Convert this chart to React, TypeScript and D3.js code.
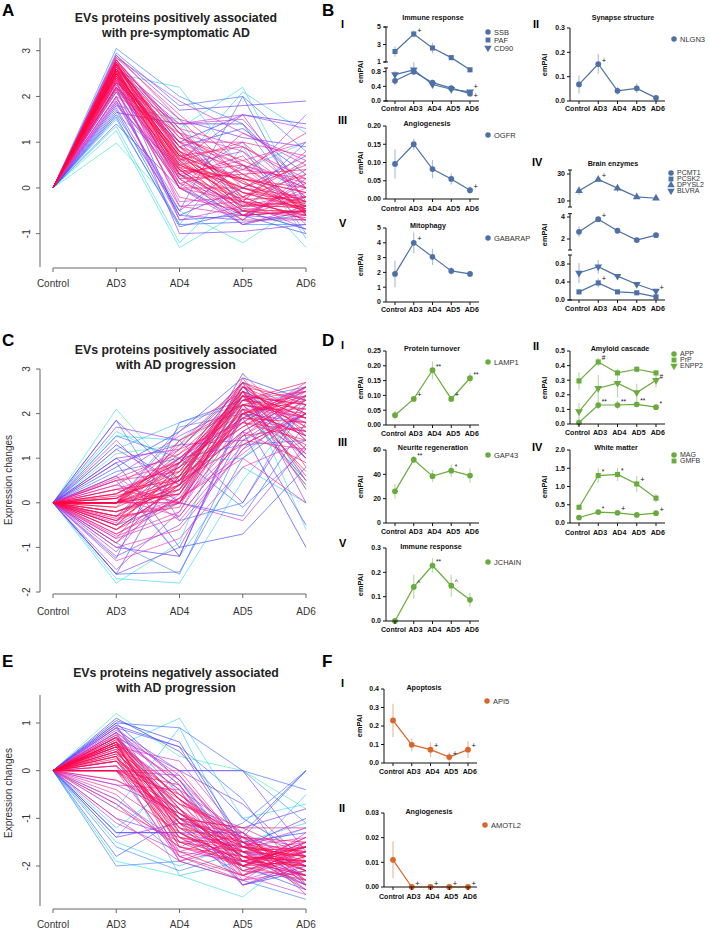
import React from 'react';
import * as d3 from 'd3';

const CATS = ['Control', 'AD3', 'AD4', 'AD5', 'AD6'];

// Cluster profiles: [membership, AD3, AD4, AD5, AD6]; Control is always 0
const PROFILES_A: number[][] = [
  [0.12, 0.98, -0.5, -1.2, -0.3], [0.15, 1.25, -1.3, -0.5, -0.9], [0.18, 1.35, -1.2, 0.2, -1.3],
  [0.2, 2.5, 2.2, 0.4, 1.0], [0.14, 2.1, 1.3, 2.2, -0.4], [0.22, 1.6, 0.5, 2.1, 1.2],
  [0.25, 1.5, -0.8, 0.9, -1.1], [0.2, 1.8, 1.5, -0.5, 0.6],
  [0.35, 3.05, 2.0, 1.4, -0.5], [0.38, 2.95, 1.8, 2.0, 0.8], [0.4, 1.7, -0.8, -0.75, -0.6],
  [0.42, 1.55, -0.85, -0.5, -0.9], [0.45, 2.3, 1.0, 1.6, 1.4], [0.32, 1.85, 0.2, 1.0, -1.0],
  [0.48, 2.0, -0.6, 0.0, 0.7], [0.36, 2.6, 1.3, -0.3, 1.0], [0.44, 2.7, 0.9, 1.3, 0.3],
  [0.4, 1.4, 0.0, -0.6, -0.5], [0.46, 1.65, 1.4, 1.4, 0.0], [0.42, 2.45, -0.7, -0.6, -1.0],
  [0.38, 1.6, -0.5, 2.0, -0.6], [0.34, 2.2, 0.3, -0.8, -0.8],
  [0.55, 2.9, 1.7, 1.8, 1.9], [0.58, 2.2, -1.0, -0.95, -0.8], [0.6, 1.9, -0.5, 0.5, 0.0],
  [0.62, 2.4, 0.6, 1.6, -0.3], [0.65, 2.8, 1.2, -0.4, 0.4], [0.68, 2.1, 0.0, -0.8, -0.4],
  [0.7, 2.5, 0.8, 0.2, 1.6], [0.72, 2.3, -0.3, -0.2, -0.7], [0.55, 2.65, 1.5, 1.1, 0.9],
  [0.6, 1.8, 0.4, -0.5, -0.2], [0.74, 2.0, -0.7, -0.4, -0.1], [0.66, 2.75, 0.5, 0.8, -0.6],
  [0.62, 2.15, 0.4, -0.6, -0.7], [0.68, 2.6, 1.4, 1.6, 1.3], [0.72, 1.85, -0.4, -0.3, -0.9],
  [0.64, 2.45, 0.1, -0.8, -0.5], [0.7, 2.85, 1.9, 1.2, 0.6], [0.58, 1.75, -0.6, -0.7, 0.2],
  [0.74, 2.2, 1.0, 0.5, -0.8],
  [0.8, 2.6, 1.0, 0.3, -0.3], [0.82, 2.5, 0.7, -0.1, -0.5], [0.85, 2.7, 0.5, 0.0, -0.2],
  [0.88, 2.4, 0.3, -0.4, -0.4], [0.9, 2.75, 1.1, 0.6, 0.0], [0.92, 2.55, 0.6, -0.3, -0.6],
  [0.95, 2.65, 0.8, 0.1, -0.4], [0.97, 2.5, 0.4, -0.5, -0.5], [0.78, 2.3, 0.0, 1.2, 0.5],
  [0.8, 2.8, 1.3, 0.9, 0.2], [0.83, 2.2, 0.2, -0.6, 0.1], [0.86, 2.6, 0.9, 0.4, 1.2],
  [0.9, 2.45, 0.5, -0.2, -0.7], [0.93, 2.7, 0.7, 0.2, -0.1], [0.96, 2.6, 0.45, -0.4, -0.3],
  [0.99, 2.55, 0.55, -0.1, -0.45], [0.8, 2.1, 0.0, -0.7, 0.3], [0.84, 2.35, 0.25, 0.7, -0.6],
  [0.88, 2.8, 1.2, -0.2, 0.6], [0.91, 2.5, 0.35, 0.5, -0.4], [0.76, 1.9, 0.1, -0.3, 0.8],
  [0.79, 2.65, 1.0, 1.0, -0.2], [0.87, 2.4, 0.0, 0.0, -0.5], [0.94, 2.75, 0.75, -0.45, -0.55],
  [0.98, 2.6, 0.65, 0.0, -0.35], [0.81, 2.2, 0.8, -0.6, 0.0], [0.85, 2.9, 1.5, 0.2, -0.1],
  [0.89, 2.3, 0.2, 0.3, 0.4], [0.92, 2.7, 0.9, -0.5, -0.65], [0.96, 2.45, 0.3, -0.25, -0.2],
  [0.82, 2.45, 0.9, 0.1, -0.3], [0.86, 2.7, 0.6, -0.6, -0.5], [0.9, 2.25, 0.45, 0.2, 0.0],
  [0.93, 2.6, 1.2, 0.3, -0.5], [0.97, 2.8, 0.8, -0.3, -0.4], [0.83, 2.15, -0.2, -0.5, -0.6],
  [0.87, 2.55, 0.1, 0.4, 0.2], [0.91, 2.35, 0.9, -0.1, -0.3], [0.95, 2.75, 0.3, -0.6, -0.5],
  [0.99, 2.5, 0.7, 0.15, -0.55], [0.78, 2.0, 1.2, 0.8, -0.2], [0.81, 2.85, 1.6, 0.5, 0.1],
  [0.84, 2.4, 0.6, 1.0, 0.7], [0.88, 2.6, 0.2, -0.7, -0.7], [0.92, 2.2, 0.5, 0.0, 0.5],
  [0.96, 2.7, 1.0, -0.2, 0.3], [0.79, 2.3, 1.4, 1.5, 0.0], [0.85, 2.65, 0.0, -0.3, -0.6],
  [0.89, 2.5, 1.1, 0.5, -0.5], [0.94, 2.35, 0.65, -0.35, -0.45], [0.98, 2.6, 0.4, 0.2, -0.3],
  [0.76, 1.95, 0.3, 0.6, 1.0], [0.8, 2.55, -0.4, -0.6, -0.2], [0.86, 2.75, 1.3, 0.0, -0.4],
  [0.9, 2.45, 0.7, 0.9, 0.1],
];

const PROFILES_C: number[][] = [
  [0.12, 2.1, 0.5, 2.9, 0.3], [0.15, -1.8, -0.9, 2.7, -0.6], [0.18, -1.7, -1.8, 0.5, 2.2],
  [0.2, 1.5, 1.4, 2.5, 0.5], [0.14, 1.6, 0.9, 1.0, 2.4], [0.22, 0.6, -1.2, 0.8, 0.0],
  [0.25, 1.2, 1.8, 2.2, 2.5], [0.2, -0.2, 0.3, 2.6, 1.0], [0.1, 1.1, 1.3, 2.2, 0.4],
  [0.35, 1.85, -0.4, 0.0, 2.4], [0.38, -1.6, -1.55, 1.0, 2.0], [0.4, -1.25, 1.8, 2.3, 2.6],
  [0.42, 0.9, -1.0, -0.7, 0.8], [0.45, 1.3, 0.4, 1.6, -1.0], [0.32, 0.0, 1.7, 2.0, 1.6],
  [0.48, -1.0, -1.2, 2.1, 0.5], [0.36, 1.5, 1.0, 1.3, 1.4], [0.44, 0.8, 1.6, 2.8, 2.3],
  [0.4, -0.5, 0.0, -0.3, 1.8], [0.46, 1.0, 0.0, 2.4, 1.0], [0.42, -1.6, 0.9, 1.9, 2.5],
  [0.38, 0.7, 1.0, -0.1, 1.2], [0.34, -0.9, -1.6, 1.4, 2.0],
  [0.55, 1.85, 0.5, 2.5, 1.5], [0.58, -1.6, -1.0, 1.6, 2.4], [0.6, 1.0, 1.2, 2.7, 0.0],
  [0.62, -1.2, -0.5, 1.2, 2.0], [0.65, 0.6, 1.5, 2.2, 1.0], [0.68, -0.9, 0.2, 2.0, 2.6],
  [0.7, 1.4, 0.0, -0.4, 1.3], [0.72, 0.3, 0.8, 2.4, 1.8], [0.55, -0.3, 1.0, 1.9, -0.5],
  [0.6, 1.7, 1.4, 0.0, 2.2], [0.74, 0.1, -0.3, 1.5, 2.5], [0.66, -1.1, 0.6, 2.6, 1.2],
  [0.62, 0.9, 1.3, 1.4, 2.3], [0.68, -1.5, -0.2, 2.2, 1.9], [0.72, 0.0, 1.6, 2.5, 0.3],
  [0.64, 1.2, 0.4, 1.8, 2.6], [0.7, -0.8, 0.9, 2.7, 1.4], [0.58, 0.5, -1.2, 2.0, 1.8],
  [0.74, -0.4, 0.1, 1.1, 2.2],
  [0.8, 0.0, 0.5, 2.6, 1.7], [0.82, -0.5, 0.3, 2.4, 2.2], [0.85, 0.2, 0.9, 2.7, 1.4],
  [0.88, -0.7, 0.0, 2.0, 2.5], [0.9, 0.0, 1.0, 2.3, 1.9], [0.92, -0.3, 0.6, 2.5, 1.1],
  [0.95, 0.1, 0.8, 2.2, 2.0], [0.97, -0.6, 0.4, 2.6, 1.6], [0.78, 0.4, 1.2, 1.8, 2.7],
  [0.8, -0.8, -0.3, 1.5, 2.3], [0.83, 0.0, 0.0, 2.8, 0.8], [0.86, 0.5, 0.7, 1.7, 2.4],
  [0.9, -0.2, 0.2, 2.1, 1.5], [0.93, 0.0, 1.1, 2.4, 0.6], [0.96, -0.4, 0.5, 1.9, 1.8],
  [0.99, 0.0, 0.6, 2.3, 2.1], [0.8, -1.0, -0.6, 1.2, 2.6], [0.84, 0.3, 0.0, 1.4, 1.2],
  [0.88, -0.1, 1.3, 2.7, 2.2], [0.91, 0.0, 0.4, 1.6, 0.9], [0.76, -1.3, -0.8, 0.8, 1.4],
  [0.79, 0.5, 0.9, 2.5, 0.5], [0.87, 0.0, 0.3, 1.9, 2.6], [0.94, -0.5, 0.8, 2.0, 1.3],
  [0.98, 0.1, 0.7, 2.4, 1.7], [0.81, -0.7, 0.1, 1.0, 0.0], [0.85, 0.2, 1.0, 2.2, 2.4],
  [0.89, -0.3, -0.1, 2.5, 1.0], [0.92, 0.0, 0.5, 1.3, 2.0], [0.96, -0.2, 0.4, 2.1, 1.5],
  [0.82, 0.0, 0.2, 2.5, 1.9], [0.86, -0.4, 0.9, 2.3, 2.5], [0.9, 0.3, 0.5, 1.8, 1.6],
  [0.93, 0.0, 1.2, 2.6, 2.0], [0.97, -0.2, 0.3, 2.0, 2.3], [0.83, 0.4, 0.0, 2.2, 1.8],
  [0.87, -0.9, 0.6, 2.4, 1.2], [0.91, 0.0, 0.8, 1.7, 2.6], [0.95, -0.6, 0.1, 2.2, 0.7],
  [0.99, 0.2, 0.9, 2.5, 1.9], [0.78, -0.45, 1.4, 2.1, 2.1], [0.81, 0.0, 0.0, 1.6, 2.4],
  [0.84, 0.55, 1.1, 2.0, 1.1], [0.88, -0.3, 0.4, 2.7, 2.0], [0.92, 0.15, 0.6, 1.5, 1.7],
  [0.96, 0.0, 0.2, 2.3, 2.7], [0.79, -0.75, -0.2, 1.9, 1.6], [0.85, 0.1, 1.0, 2.1, 0.4],
  [0.89, -0.5, 0.7, 2.6, 2.3], [0.94, 0.0, 0.9, 1.8, 1.4], [0.98, -0.1, 0.5, 2.4, 2.2],
  [0.76, 0.6, -0.4, 1.3, 2.0], [0.8, -0.6, 0.4, 2.9, 1.5], [0.86, 0.0, 1.4, 2.2, 1.9],
  [0.9, -0.35, 0.0, 2.0, 2.4],
];

const PROFILES_E: number[][] = [
  [0.1, 1.2, 0.3, 0.0, -0.8], [0.15, -1.9, -2.2, -2.65, -1.6], [0.18, 0.5, 1.1, -1.0, -0.7],
  [0.2, -1.5, -2.0, -1.5, -1.1], [0.14, 0.8, -1.0, -2.4, -2.0], [0.22, -0.8, 0.9, -1.7, -1.2],
  [0.25, 0.3, -2.2, -1.9, -0.5], [0.2, -1.2, -0.2, -2.1, -2.3],
  [0.35, -2.0, -1.9, -2.3, -2.7], [0.38, 1.0, 0.9, 0.0, -0.4], [0.4, 0.9, -0.5, -1.4, 0.0],
  [0.42, -1.3, -1.3, -2.0, -2.5], [0.45, 1.05, 0.6, -1.5, -1.3], [0.32, -1.4, 0.0, 0.0, -1.1],
  [0.48, 0.7, -0.8, -2.4, -2.1], [0.36, -0.6, -1.6, -1.1, 0.0], [0.44, 1.1, 0.4, -1.0, -1.8],
  [0.4, -1.8, -1.0, -1.8, -2.4], [0.46, 1.0, -0.2, -1.9, -2.2], [0.42, -1.3, -1.3, -1.3, 0.0],
  [0.38, 0.9, 0.5, -0.6, -2.4], [0.34, -1.6, -2.1, -1.7, -2.0],
  [0.55, 0.95, 0.5, -1.6, -1.0], [0.58, -0.3, -0.9, -1.7, -2.2], [0.6, 0.85, 0.0, -0.7, -1.9],
  [0.62, -1.0, -1.4, -2.2, -1.7], [0.65, 0.6, -0.4, -1.3, -2.0], [0.68, 0.2, -1.2, -2.0, -1.4],
  [0.7, -0.7, -1.8, -1.5, -2.3], [0.72, 0.9, -0.2, -1.8, -1.6], [0.55, 0.4, -1.0, -1.2, -0.8],
  [0.6, -1.4, -1.1, -1.4, -2.6], [0.74, 0.7, -0.6, -2.3, -1.9], [0.66, 0.0, -0.1, -1.6, -2.1],
  [0.62, 0.8, -0.3, -2.0, -1.5], [0.68, -1.1, -1.7, -1.9, -2.4], [0.72, 0.5, 0.2, -1.4, -1.8],
  [0.64, 0.95, -1.1, -2.4, -2.0], [0.7, 0.1, -1.9, -1.6, -1.2], [0.58, 0.7, 0.0, 0.0, -1.7],
  [0.74, -0.2, -0.8, -2.2, -2.6],
  [0.8, 0.6, -0.8, -1.7, -1.9], [0.82, 0.5, -1.0, -1.9, -1.6], [0.85, 0.7, -0.6, -1.5, -2.0],
  [0.88, 0.3, -1.3, -2.1, -1.8], [0.9, 0.0, -0.5, -1.6, -1.7], [0.92, 0.4, -1.1, -1.8, -2.2],
  [0.95, 0.6, -0.9, -1.4, -1.5], [0.97, 0.2, -1.5, -2.0, -1.9], [0.78, -0.5, -1.7, -1.3, -2.4],
  [0.8, 0.75, -0.3, -2.2, -1.3], [0.83, 0.0, -1.2, -1.7, -2.1], [0.86, -0.7, -1.6, -1.9, -1.6],
  [0.9, 0.55, -0.7, -1.3, -2.3], [0.93, 0.35, -1.4, -1.6, -1.8], [0.96, 0.0, -0.8, -2.0, -1.6],
  [0.99, 0.5, -1.1, -1.7, -1.8], [0.8, -1.0, -1.9, -2.3, -1.5], [0.84, 0.65, -0.2, -1.5, -2.5],
  [0.88, 0.1, -1.0, -1.2, -1.2], [0.91, 0.45, -1.6, -1.8, -2.0], [0.76, -0.3, -0.4, -2.4, -1.9],
  [0.79, 0.8, -1.3, -1.6, -1.4], [0.87, 0.0, -0.3, -1.9, -2.2], [0.94, 0.3, -1.2, -1.5, -1.7],
  [0.98, 0.55, -0.9, -1.8, -1.9], [0.81, -0.8, -1.5, -1.4, -2.0], [0.85, 0.6, -1.8, -2.2, -1.6],
  [0.89, 0.2, -0.6, -1.7, -2.4], [0.92, 0.0, -1.4, -2.0, -1.5], [0.96, 0.4, -1.0, -1.6, -2.1],
  [0.82, 0.45, -0.9, -1.6, -2.0], [0.86, 0.7, -1.2, -2.0, -1.7], [0.9, 0.25, -0.7, -1.8, -2.3],
  [0.93, 0.6, -1.5, -1.7, -1.6], [0.97, 0.0, -1.0, -1.5, -1.9], [0.83, 0.55, -0.4, -2.1, -2.2],
  [0.87, -0.4, -1.3, -1.9, -1.7], [0.91, 0.65, -0.6, -1.4, -2.1], [0.95, 0.3, -1.7, -2.2, -1.8],
  [0.99, 0.5, -0.8, -1.9, -2.0], [0.78, 0.8, -0.1, -1.7, -1.5], [0.81, 0.1, -1.1, -1.3, -2.4],
  [0.84, 0.6, -1.6, -2.0, -1.4], [0.88, -0.2, -0.9, -1.8, -1.9], [0.92, 0.4, -0.5, -1.5, -2.2],
  [0.96, 0.7, -1.3, -1.9, -1.6], [0.79, 0.0, -1.8, -2.3, -2.1], [0.85, 0.35, -0.7, -1.2, -1.8],
  [0.89, 0.55, -1.4, -1.7, -2.5], [0.94, 0.2, -1.1, -2.1, -1.7], [0.98, 0.6, -0.6, -1.6, -1.8],
  [0.76, -0.6, -1.5, -1.8, -2.2], [0.8, 0.5, -1.9, -1.4, -1.6], [0.86, 0.0, 0.0, -1.6, -2.0],
  [0.9, 0.75, -1.0, -2.0, -2.3],
];

// emPAI series (values, SEM, significance marks)
const SSB = [0.55, 0.80, 0.50, 0.35, 0.20];
const SSB_ERR = [0.12, 0.10, 0.08, 0.05, 0.04];
const SSB_SIG = ['', '', '', '', '+'];
const PAF = [2.2, 4.2, 2.6, 1.5, 0.85];
const PAF_ERR = [0.6, 0.4, 0.6, 0.1, 0.03];
const PAF_SIG = ['', '+', '', '', ''];
const CD90 = [0.72, 0.85, 0.45, 0.32, 0.25];
const CD90_ERR = [0.1, 0.12, 0.08, 0.04, 0.03];
const CD90_SIG = ['', '', '', '', '+'];

const NLGN3 = [0.068, 0.152, 0.042, 0.052, 0.013];
const NLGN3_ERR = [0.037, 0.04, 0.016, 0.02, 0.007];
const NLGN3_SIG = ['', '+', '', '', ''];

const OGFR = [0.096, 0.150, 0.082, 0.055, 0.024];
const OGFR_ERR = [0.04, 0.015, 0.025, 0.015, 0.01];
const OGFR_SIG = ['', '', '', '', '+'];

const PCMT1 = [2.65, 3.8, 2.75, 1.9, 2.35];
const PCMT1_ERR = [0.5, 0.15, 0.2, 0.2, 0.1];
const PCMT1_SIG = ['', '+', '', '', ''];
const PCSK2 = [0.18, 0.38, 0.18, 0.16, 0.07];
const PCSK2_ERR = [0.06, 0.1, 0.03, 0.03, 0.03];
const PCSK2_SIG = ['', '+', '', '', ''];
const DPYSL2 = [17.5, 26, 19.5, 13, 12];
const DPYSL2_ERR = [3, 1.5, 3, 1, 0.5];
const DPYSL2_SIG = ['', '+', '', '', ''];
const BLVRA = [0.6, 0.74, 0.53, 0.35, 0.2];
const BLVRA_ERR = [0.22, 0.15, 0.04, 0.03, 0.03];
const BLVRA_SIG = ['', '', '', '', '+'];

const GABARAP = [1.9, 4.0, 3.05, 2.1, 1.9];
const GABARAP_ERR = [0.9, 0.7, 0.55, 0.25, 0.15];
const GABARAP_SIG = ['', '+', '', '', ''];

const LAMP1 = [0.033, 0.088, 0.185, 0.088, 0.158];
const LAMP1_ERR = [0.015, 0.008, 0.03, 0.01, 0.018];
const LAMP1_SIG = ['', '+', '**', '+', '**'];

const APP = [0.01, 0.13, 0.13, 0.135, 0.115];
const APP_ERR = [0.01, 0.03, 0.03, 0.01, 0.005];
const APP_SIG = ['', '**', '**', '**', '*'];
const PRP = [0.295, 0.425, 0.35, 0.375, 0.35];
const PRP_ERR = [0.06, 0.03, 0.01, 0.02, 0.01];
const PRP_SIG = ['', '#', '', '', ''];
const ENPP2 = [0.085, 0.245, 0.28, 0.215, 0.30];
const ENPP2_ERR = [0.06, 0.09, 0.1, 0.06, 0.05];
const ENPP2_SIG = ['', '', '', '', '#'];

const GAP43 = [26, 52, 38.5, 43, 39];
const GAP43_ERR = [6, 3, 5, 5, 6];
const GAP43_SIG = ['', '**', '', '*', ''];

const MAG = [0.15, 0.30, 0.28, 0.22, 0.27];
const MAG_ERR = [0.02, 0.02, 0.02, 0.02, 0.02];
const MAG_SIG = ['', '*', '+', '', '+'];
const GMFB = [0.43, 1.30, 1.33, 1.07, 0.68];
const GMFB_ERR = [0.08, 0.2, 0.18, 0.22, 0.12];
const GMFB_SIG = ['', '*', '*', '+', ''];

const JCHAIN = [0.0, 0.14, 0.228, 0.145, 0.087];
const JCHAIN_ERR = [0, 0.05, 0.03, 0.045, 0.028];
const JCHAIN_SIG = ['', '^', '**', '^', ''];

const API5 = [0.23, 0.098, 0.072, 0.032, 0.072];
const API5_ERR = [0.09, 0.035, 0.04, 0.025, 0.045];
const API5_SIG = ['', '', '+', '+', '+'];

const AMOTL2 = [0.011, 0, 0, 0, 0];
const AMOTL2_ERR = [0.0075, 0, 0, 0, 0];
const AMOTL2_SIG = ['', '+', '+', '+', '+'];

const FONT = "'Liberation Sans', Arial, Helvetica, sans-serif";
const BLUE = '#4d71a6';
const GREEN = '#6aab3e';
const ORANGE = '#d9652c';

const memColor = d3
  .scaleLinear<string>()
  .domain([0.1, 0.16, 0.3, 0.45, 0.6, 0.75, 0.9, 1])
  .range(['#40f0a0', '#30e0f0', '#3aa0ff', '#3535ff', '#8a30f5', '#e030c8', '#ff1060', '#ff0030'])
  .interpolate(d3.interpolateRgb);

type LeftProps = {
  profiles: number[][];
  yDomain: [number, number];
  yRange: [number, number];
  yTicks: number[];
  yAxis: [number, number];
  xAxisY: number;
  xLabelY: number;
  title: [string, string];
  titleY: [number, number];
  letter: string;
  letterY: number;
  ylabelY?: number;
};

function LeftPanel(p: LeftProps) {
  const x = d3.scalePoint<string>().domain(CATS).range([53, 306]);
  const y = d3.scaleLinear().domain(p.yDomain).range(p.yRange);
  const sorted = [...p.profiles].sort((a, b) => a[0] - b[0]);
  const line = d3.line<[number, number]>();
  const axisColor = '#666';
  return (
    <g fontFamily={FONT}>
      <text x={2} y={p.letterY} fontSize={17} fontWeight="bold">{p.letter}</text>
      <text x={176} y={p.titleY[0]} fontSize={12.3} fontWeight="bold" textAnchor="middle" fill="#222">{p.title[0]}</text>
      <text x={176} y={p.titleY[1]} fontSize={12.3} fontWeight="bold" textAnchor="middle" fill="#222">{p.title[1]}</text>
      {sorted.map((pr, i) => (
        <path
          key={i}
          d={line(CATS.map((c, j) => [x(c) as number, y(j === 0 ? 0 : pr[j])]))!}
          fill="none"
          stroke={memColor(pr[0])}
          strokeWidth={0.7}
          strokeOpacity={0.9}
        />
      ))}
      <line x1={40} x2={40} y1={p.yAxis[0]} y2={p.yAxis[1]} stroke={axisColor} strokeWidth={1} />
      {p.yTicks.map((t) => (
        <g key={t}>
          <line x1={36} x2={40} y1={y(t)} y2={y(t)} stroke={axisColor} />
          <text transform={`translate(29.5,${y(t)}) rotate(-90)`} textAnchor="middle" fontSize={10} fill="#333">{t}</text>
        </g>
      ))}
      <line x1={53} x2={306} y1={p.xAxisY} y2={p.xAxisY} stroke={axisColor} />
      {CATS.map((c) => (
        <g key={c}>
          <line x1={x(c)} x2={x(c)} y1={p.xAxisY} y2={p.xAxisY + 4} stroke={axisColor} />
          <text x={x(c)} y={p.xLabelY} textAnchor="middle" fontSize={10} fill="#333">{c}</text>
        </g>
      ))}
      {p.ylabelY !== undefined && (
        <text transform={`translate(11.5,${p.ylabelY}) rotate(-90)`} textAnchor="middle" fontSize={10} fill="#333">Expression changes</text>
      )}
    </g>
  );
}

type Seg = { domain: [number, number]; range: [number, number]; ticks: number[]; fmt: string };
type Series = { name: string; values: number[]; err: number[]; sig: string[]; shape: string; sigDy: number };
type SmallProps = {
  xRange: [number, number];
  axisX: number;
  segs: Seg[];
  series: Series[];
  color: string;
  title: string;
  titlePos: [number, number];
  legendX: number;
  legendY: number[];
  legendSize?: number;
  ylabel?: [number, number];
  xLabelY: number;
};

function segScale(segs: Seg[]) {
  const scales = segs.map((s) => d3.scaleLinear().domain(s.domain).range(s.range));
  return (v: number) => {
    let best = 0;
    let bd = Infinity;
    segs.forEach((s, i) => {
      const d = v < s.domain[0] ? s.domain[0] - v : v > s.domain[1] ? v - s.domain[1] : 0;
      if (d < bd) { bd = d; best = i; }
    });
    return scales[best](v);
  };
}

function Marker({ shape, x, y, color, size = 26 }: { shape: string; x: number; y: number; color: string; size?: number }) {
  const typ = shape === 'square' ? d3.symbolSquare : shape === 'circle' ? d3.symbolCircle : d3.symbolTriangle;
  const d = d3.symbol().type(typ).size(size)()!;
  const rot = shape === 'down' ? 180 : 0;
  return <path d={d} transform={`translate(${x},${y}) rotate(${rot})`} fill={color} />;
}

function SmallPanel(p: SmallProps) {
  const x = d3.scalePoint<string>().domain(CATS).range(p.xRange);
  const y = segScale(p.segs);
  const base = p.segs[0].range[0];
  const line = d3.line<[number, number]>();
  const multi = p.segs.length > 1;
  const lfs = p.legendSize ?? 7.5;
  return (
    <g fontFamily={FONT}>
      <text x={p.titlePos[0]} y={p.titlePos[1] + 2.5} textAnchor="middle" fontSize={7.2} fontWeight="bold" fill="#111">{p.title}</text>
      {p.series.map((s) => (
        <g key={s.name}>
          {s.values.map((v, i) =>
            s.err[i] > 0 ? (
              <line key={i} x1={x(CATS[i])} x2={x(CATS[i])} y1={y(v - s.err[i])} y2={y(v + s.err[i])} stroke={p.color} strokeOpacity={0.45} strokeWidth={1.2} />
            ) : null
          )}
          <path d={line(s.values.map((v, i) => [x(CATS[i]) as number, y(v)]))!} fill="none" stroke={p.color} strokeWidth={1.2} />
          {s.values.map((v, i) => (
            <Marker key={i} shape={s.shape} x={x(CATS[i]) as number} y={y(v)} color={p.color} />
          ))}
          {s.values.map((v, i) =>
            s.sig[i] ? (
              <text key={'s' + i} x={(x(CATS[i]) as number) + 3.5} y={y(v) - 1.5 + s.sigDy} fontSize={s.sig[i] === '+' ? 7.5 : 6.5} fill="#111">{s.sig[i]}</text>
            ) : null
          )}
        </g>
      ))}
      {p.segs.map((s, k) => (
        <g key={k}>
          <line x1={p.axisX} x2={p.axisX} y1={s.range[0]} y2={s.range[1]} stroke="#111" strokeWidth={1} />
          {multi && <line x1={p.axisX - 2} x2={p.axisX + 2} y1={s.range[0]} y2={s.range[0]} stroke="#111" />}
          {multi && <line x1={p.axisX - 2} x2={p.axisX + 2} y1={s.range[1]} y2={s.range[1]} stroke="#111" />}
          {s.ticks.map((t) => {
            const ty = d3.scaleLinear().domain(s.domain).range(s.range)(t);
            return (
              <g key={t}>
                <line x1={p.axisX - 3} x2={p.axisX} y1={ty} y2={ty} stroke="#111" />
                <text x={p.axisX - 5} y={ty} dy="0.35em" textAnchor="end" fontSize={7} fontWeight="bold" fill="#111">{d3.format(s.fmt)(t)}</text>
              </g>
            );
          })}
        </g>
      ))}
      <line x1={p.axisX} x2={p.xRange[1] + 9} y1={base} y2={base} stroke="#111" strokeWidth={1} />
      {CATS.map((c, i) => (
        <g key={c}>
          <line x1={x(c)} x2={x(c)} y1={base} y2={base + 3} stroke="#111" />
          <text x={(x(c) as number) + (i === 0 ? -1.5 : 1.8)} y={p.xLabelY} textAnchor="middle" fontSize={7} fontWeight="bold" fill="#111">{c}</text>
        </g>
      ))}
      {p.ylabel && (
        <text transform={`translate(${p.ylabel[0]},${p.ylabel[1]}) rotate(-90)`} textAnchor="middle" fontSize={7.4} fontWeight="bold" fill="#111">emPAI</text>
      )}
      {p.series.map((s, i) => (
        <g key={'lg' + s.name}>
          <Marker shape={s.shape} x={p.legendX} y={p.legendY[i]} color={p.color} size={24} />
          <text x={p.legendX + 6} y={p.legendY[i]} dy="0.35em" fontSize={lfs} fill="#333">{s.name}</text>
        </g>
      ))}
    </g>
  );
}

const S = (name: string, values: number[], err: number[], sig: string[], shape: string, sigDy = 0): Series => ({ name, values, err, sig, shape, sigDy });

const LEFT_X: [number, number] = [395, 470];
const RIGHT_X: [number, number] = [579, 656];
const F_X: [number, number] = [393, 468];

function Roman({ x, y, t }: { x: number; y: number; t: string }) {
  return <text x={x} y={y} fontFamily={FONT} fontSize={11} fontWeight="bold">{t}</text>;
}

export default function App() {
  return (
    <svg width={709} height={929} style={{ position: 'absolute', left: 0, top: 0, background: '#fff' }}>
      <rect width={709} height={929} fill="#fff" />
      <LeftPanel
        profiles={PROFILES_A}
        yDomain={[-1, 3]}
        yRange={[233.7, 50.7]}
        yTicks={[-1, 0, 1, 2, 3]}
        yAxis={[38, 267]}
        xAxisY={268}
        xLabelY={287}
        title={['EVs proteins positively associated', 'with pre-symptomatic AD']}
        titleY={[22, 37]}
        letter="A"
        letterY={16}
      />
      <LeftPanel
        profiles={PROFILES_C}
        yDomain={[-2, 3]}
        yRange={[592, 369]}
        yTicks={[-2, -1, 0, 1, 2, 3]}
        yAxis={[369, 592]}
        xAxisY={594}
        xLabelY={615}
        title={['EVs proteins positively associated', 'with AD progression']}
        titleY={[354, 369]}
        letter="C"
        letterY={346}
        ylabelY={480}
      />
      <LeftPanel
        profiles={PROFILES_E}
        yDomain={[-2, 1]}
        yRange={[866, 723]}
        yTicks={[-2, -1, 0, 1]}
        yAxis={[695, 906]}
        xAxisY={909}
        xLabelY={928}
        title={['EVs proteins negatively associated', 'with AD progression']}
        titleY={[677, 692]}
        letter="E"
        letterY={667}
        ylabelY={793}
      />

      <text x={322} y={16} fontFamily={FONT} fontSize={17} fontWeight="bold">B</text>
      <text x={322} y={346} fontFamily={FONT} fontSize={17} fontWeight="bold">D</text>
      <text x={322} y={667} fontFamily={FONT} fontSize={17} fontWeight="bold">F</text>
      <Roman x={341} y={28} t="I" />
      <Roman x={338} y={124} t="III" />
      <Roman x={339} y={227} t="V" />
      <Roman x={533} y={28} t="II" />
      <Roman x={532} y={166} t="IV" />
      <Roman x={341} y={349} t="I" />
      <Roman x={338} y={446} t="III" />
      <Roman x={339} y={547} t="V" />
      <Roman x={533} y={350} t="II" />
      <Roman x={532} y={451} t="IV" />
      <Roman x={341} y={687} t="I" />
      <Roman x={339} y={812} t="II" />

      {/* B I */}
      <SmallPanel
        xRange={LEFT_X}
        axisX={386}
        segs={[
          { domain: [0, 0.9], range: [101, 68], ticks: [0, 0.4, 0.8], fmt: '.1f' },
          { domain: [1, 5], range: [62, 27], ticks: [1, 3, 5], fmt: 'd' },
        ]}
        series={[
          S('SSB', SSB, SSB_ERR, SSB_SIG, 'circle', 6),
          S('PAF', PAF, PAF_ERR, PAF_SIG, 'square'),
          S('CD90', CD90, CD90_ERR, CD90_SIG, 'down', -1.5),
        ]}
        color={BLUE}
        title="Immune response"
        titlePos={[433, 17]}
        legendX={488}
        legendY={[32, 40, 48]}
        ylabel={[363, 72]}
        xLabelY={111}
      />
      {/* B II */}
      <SmallPanel
        xRange={RIGHT_X}
        axisX={570}
        segs={[{ domain: [0, 0.3], range: [101, 28], ticks: [0, 0.1, 0.2, 0.3], fmt: '.1f' }]}
        series={[S('NLGN3', NLGN3, NLGN3_ERR, NLGN3_SIG, 'circle')]}
        color={BLUE}
        title="Synapse structure"
        titlePos={[623, 17]}
        legendX={674}
        legendY={[39]}
        ylabel={[547, 65]}
        xLabelY={111}
      />
      {/* B III */}
      <SmallPanel
        xRange={LEFT_X}
        axisX={386}
        segs={[{ domain: [0, 0.2], range: [199, 126], ticks: [0, 0.05, 0.1, 0.15, 0.2], fmt: '.2f' }]}
        series={[S('OGFR', OGFR, OGFR_ERR, OGFR_SIG, 'circle')]}
        color={BLUE}
        title="Angiogenesis"
        titlePos={[427, 123]}
        legendX={488}
        legendY={[135]}
        ylabel={[363, 163]}
        xLabelY={211}
      />
      {/* B IV */}
      <SmallPanel
        xRange={RIGHT_X}
        axisX={570}
        segs={[
          { domain: [0, 1], range: [300, 255], ticks: [0, 0.4, 0.8], fmt: '.1f' },
          { domain: [1, 4.3], range: [250, 213.7], ticks: [2, 4], fmt: 'd' },
          { domain: [5.5, 33], range: [207, 170], ticks: [10, 30], fmt: 'd' },
        ]}
        series={[
          S('PCMT1', PCMT1, PCMT1_ERR, PCMT1_SIG, 'circle'),
          S('PCSK2', PCSK2, PCSK2_ERR, PCSK2_SIG, 'square'),
          S('DPYSL2', DPYSL2, DPYSL2_ERR, DPYSL2_SIG, 'up'),
          S('BLVRA', BLVRA, BLVRA_ERR, BLVRA_SIG, 'down'),
        ]}
        color={BLUE}
        title="Brain enzymes"
        titlePos={[613, 163]}
        legendX={671}
        legendY={[173, 179, 185, 191]}
        legendSize={7}
        ylabel={[547, 235]}
        xLabelY={311}
      />
      {/* B V */}
      <SmallPanel
        xRange={LEFT_X}
        axisX={386}
        segs={[{ domain: [0, 5], range: [302, 228], ticks: [0, 1, 2, 3, 4, 5], fmt: 'd' }]}
        series={[S('GABARAP', GABARAP, GABARAP_ERR, GABARAP_SIG, 'circle')]}
        color={BLUE}
        title="Mitophagy"
        titlePos={[428, 225]}
        legendX={488}
        legendY={[238]}
        ylabel={[363, 265]}
        xLabelY={312}
      />

      {/* D I */}
      <SmallPanel
        xRange={LEFT_X}
        axisX={386}
        segs={[{ domain: [0, 0.25], range: [425, 351], ticks: [0, 0.05, 0.1, 0.15, 0.2, 0.25], fmt: '.2f' }]}
        series={[S('LAMP1', LAMP1, LAMP1_ERR, LAMP1_SIG, 'circle')]}
        color={GREEN}
        title="Protein turnover"
        titlePos={[432, 348]}
        legendX={488}
        legendY={[362]}
        ylabel={[363, 388]}
        xLabelY={436}
      />
      {/* D II */}
      <SmallPanel
        xRange={RIGHT_X}
        axisX={570}
        segs={[{ domain: [0, 0.5], range: [424, 351], ticks: [0, 0.1, 0.2, 0.3, 0.4, 0.5], fmt: '.1f' }]}
        series={[
          S('APP', APP, APP_ERR, APP_SIG, 'circle'),
          S('PrP', PRP, PRP_ERR, PRP_SIG, 'square'),
          S('ENPP2', ENPP2, ENPP2_ERR, ENPP2_SIG, 'down'),
        ]}
        color={GREEN}
        title="Amyloid cascade"
        titlePos={[620, 348]}
        legendX={674}
        legendY={[354, 360, 366]}
        legendSize={7}
        ylabel={[547, 388]}
        xLabelY={435}
      />
      {/* D III */}
      <SmallPanel
        xRange={LEFT_X}
        axisX={386}
        segs={[{ domain: [0, 60], range: [523, 450], ticks: [0, 20, 40, 60], fmt: 'd' }]}
        series={[S('GAP43', GAP43, GAP43_ERR, GAP43_SIG, 'circle')]}
        color={GREEN}
        title="Neurite regeneration"
        titlePos={[433, 447]}
        legendX={488}
        legendY={[455]}
        ylabel={[363, 487]}
        xLabelY={534}
      />
      {/* D IV */}
      <SmallPanel
        xRange={RIGHT_X}
        axisX={570}
        segs={[{ domain: [0, 2], range: [523, 450], ticks: [0, 0.5, 1, 1.5, 2], fmt: '.1f' }]}
        series={[S('MAG', MAG, MAG_ERR, MAG_SIG, 'circle'), S('GMFB', GMFB, GMFB_ERR, GMFB_SIG, 'square')]}
        color={GREEN}
        title="White matter"
        titlePos={[616, 447]}
        legendX={674}
        legendY={[455, 461]}
        legendSize={7}
        ylabel={[547, 487]}
        xLabelY={535}
      />
      {/* D V */}
      <SmallPanel
        xRange={LEFT_X}
        axisX={386}
        segs={[{ domain: [0, 0.3], range: [621, 548], ticks: [0, 0.1, 0.2, 0.3], fmt: '.1f' }]}
        series={[S('JCHAIN', JCHAIN, JCHAIN_ERR, JCHAIN_SIG, 'circle')]}
        color={GREEN}
        title="Immune response"
        titlePos={[431, 546]}
        legendX={488}
        legendY={[562]}
        ylabel={[363, 585]}
        xLabelY={632}
      />

      {/* F I */}
      <SmallPanel
        xRange={F_X}
        axisX={384}
        segs={[{ domain: [0, 0.4], range: [763, 689], ticks: [0, 0.1, 0.2, 0.3, 0.4], fmt: '.1f' }]}
        series={[S('API5', API5, API5_ERR, API5_SIG, 'circle')]}
        color={ORANGE}
        title="Apoptosis"
        titlePos={[424, 687]}
        legendX={487}
        legendY={[701]}
        ylabel={[362, 726]}
        xLabelY={774}
      />
      {/* F II */}
      <SmallPanel
        xRange={F_X}
        axisX={384}
        segs={[{ domain: [0, 0.03], range: [887, 813], ticks: [0, 0.01, 0.02, 0.03], fmt: '.2f' }]}
        series={[S('AMOTL2', AMOTL2, AMOTL2_ERR, AMOTL2_SIG, 'circle')]}
        color={ORANGE}
        title="Angiogenesis"
        titlePos={[429, 811]}
        legendX={485}
        legendY={[825]}
        xLabelY={899}
      />
    </svg>
  );
}
